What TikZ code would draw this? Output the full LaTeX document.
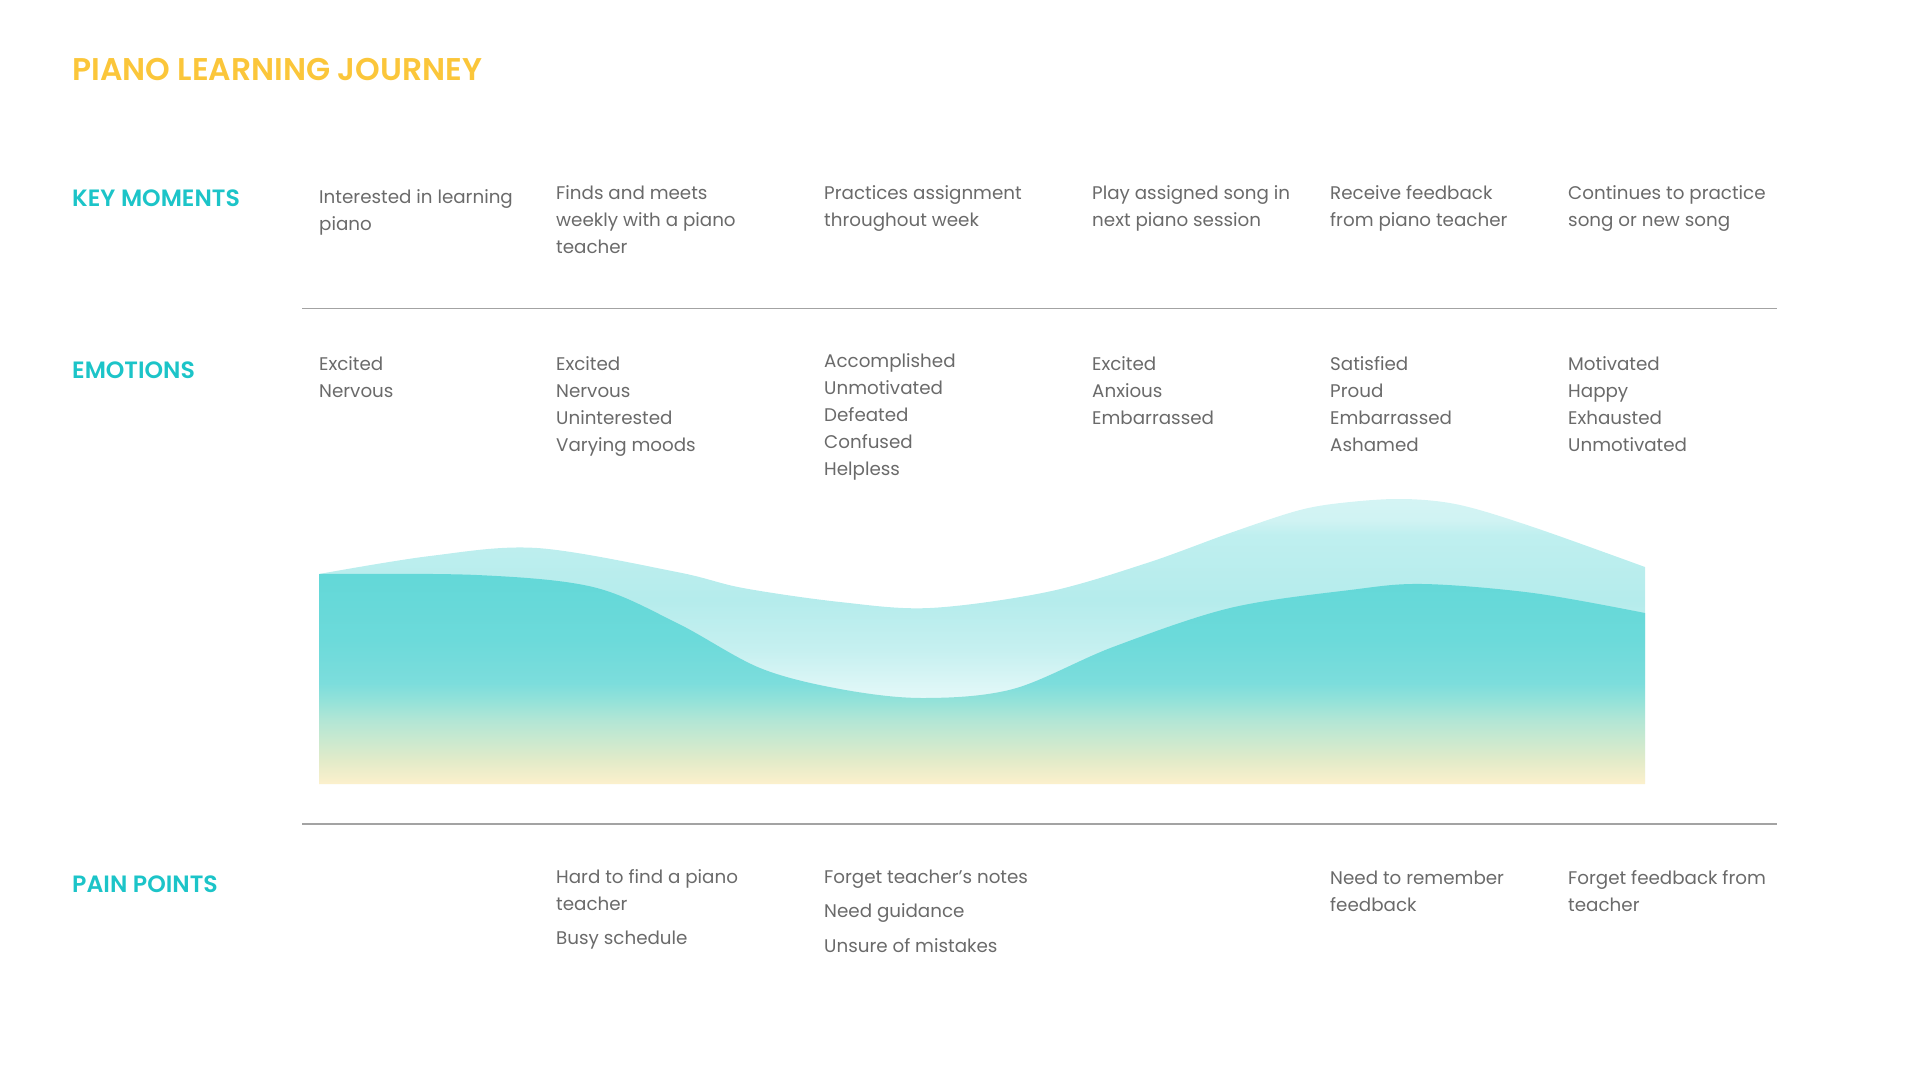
\documentclass[tikz,border=0pt]{standalone}
\usepackage{fontspec}
\setmainfont{Poppins}
\newfontfamily\headfont{Poppins SemiBold}
\usetikzlibrary{calc}

\definecolor{titlecol}{HTML}{FBC63A}
\definecolor{headcol}{HTML}{1CC4C8}
\definecolor{txt}{HTML}{6A6A6A}
\definecolor{rule}{HTML}{A3A3A3}

% colours of the two wave bands
\definecolor{dA}{HTML}{FCF0CC}
\definecolor{dB}{HTML}{E2EBC9}
\definecolor{dC}{HTML}{CAE9CF}
\definecolor{dD}{HTML}{B2E6D5}
\definecolor{dE}{HTML}{93E2D9}
\definecolor{dF}{HTML}{7CDDDC}
\definecolor{dG}{HTML}{6CDADA}
\definecolor{dH}{HTML}{63D8D8}
\definecolor{lA}{HTML}{F0FBFB}
\definecolor{lB}{HTML}{E8F9F9}
\definecolor{lC}{HTML}{DFF7F7}
\definecolor{lD}{HTML}{C6F0F0}
\definecolor{lE}{HTML}{B5ECEC}
\definecolor{lF}{HTML}{BFEFEF}
\definecolor{lG}{HTML}{D0F3F3}
\definecolor{lH}{HTML}{D4F4F4}

\pgfdeclareverticalshading{darkwave}{100bp}{color(0bp)=(dA); color(25bp)=(dA);
  color(29.2bp)=(dB); color(32.7bp)=(dC); color(36.2bp)=(dD); color(39.7bp)=(dE);
  color(42.7bp)=(dF); color(50.3bp)=(dG); color(61.7bp)=(dH); color(100bp)=(dH)}
\pgfdeclareverticalshading{lightwave}{100bp}{color(0bp)=(lA); color(25bp)=(lA);
  color(38bp)=(lB); color(41.5bp)=(lC); color(48.5bp)=(lD); color(57.3bp)=(lE);
  color(68.7bp)=(lF); color(71.3bp)=(lG); color(75bp)=(lH); color(100bp)=(lH)}

\begin{document}
\begin{tikzpicture}[x=1pt, y=-1pt,
  titletext/.style={anchor=base west, inner sep=0, text=titlecol,
    font=\headfont\fontsize{31.4}{38}\selectfont},
  rowhead/.style={anchor=base west, inner sep=0, text=headcol,
    font=\headfont\fontsize{23.6}{28}\selectfont},
  % multi-line cells are placed by the baseline of their last line
  cell/.style={anchor=base west, inner sep=0, align=left, text=txt,
    font=\fontsize{18.3}{27}\selectfont},
  divider/.style={draw=rule, line width=1.2pt}]

\useasboundingbox (0,0) rectangle (1920,1080);

% title and row headings
\node[titletext] (title) at (72,80) {PIANO LEARNING JOURNEY};
\node[rowhead] (hkey) at (72,206) {KEY MOMENTS};
\node[rowhead] (hemo) at (72,378) {EMOTIONS};
\node[rowhead] (hpain) at (72,892) {PAIN POINTS};

% key moments
\node[cell] (k1) at (319,230) {Interested in learning\\piano};
\node[cell] (k2) at (556,253) {Finds and meets\\weekly with a piano\\teacher};
\node[cell] (k3) at (824,226) {Practices assignment\\throughout week};
\node[cell] (k4) at (1092,226) {Play assigned song in\\next piano session};
\node[cell] (k5) at (1330,226) {Receive feedback\\from piano teacher};
\node[cell] (k6) at (1568,226) {Continues to practice\\song or new song};

% dividers
\coordinate (r1a) at (302,308.5);
\coordinate (r1b) at (1777,308.5);
\coordinate (r2a) at (302,824);
\coordinate (r2b) at (1777,824);
\draw[divider] (r1a) -- (r1b);
\draw[divider] (r2a) -- (r2b);

% emotions
\node[cell] (e1) at (319,397.5) {Excited\\Nervous};
\node[cell] (e2) at (556,451.5) {Excited\\Nervous\\Uninterested\\Varying moods};
\node[cell] (e3) at (824,475) {Accomplished\\Unmotivated\\Defeated\\Confused\\Helpless};
\node[cell] (e4) at (1092,424.5) {Excited\\Anxious\\Embarrassed};
\node[cell] (e5) at (1330,451.5) {Satisfied\\Proud\\Embarrassed\\Ashamed};
\node[cell] (e6) at (1568,451.5) {Motivated\\Happy\\Exhausted\\Unmotivated};

% emotion curve: light band behind, gradient band in front
\begin{scope}
  \clip (319,784) -- plot[smooth, tension=0.55] coordinates {(319,574) (430,556) (537,548)
    (677,572) (743,588) (840,602) (930,608) (1047,592) (1147,563) (1230,533) (1300,510)
    (1350,502) (1405,499) (1460,505) (1533,527) (1645,567)} -- (1645,784) -- cycle;
  \shade[shading=lightwave] (319,499) rectangle (1645,784);
\end{scope}
\begin{scope}
  \clip (319,784) -- plot[smooth, tension=0.55] coordinates {(319,574) (477,575) (593,587)
    (677,623) (760,668) (840,689) (922,698) (1013,689) (1113,647) (1230,608) (1350,590)
    (1423,584) (1533,593) (1645,613)} -- (1645,784) -- cycle;
  \shade[shading=darkwave] (319,499) rectangle (1645,784);
\end{scope}

% pain points
\node[cell] (p2) at (556,944.3) {Hard to find a piano\\teacher\\[7pt]Busy schedule};
\node[cell] (p3) at (824,952.8) {Forget teacher's notes\\[7.5pt]Need guidance\\[8pt]Unsure of mistakes};
\node[cell] (p5) at (1330,911.6) {Need to remember\\feedback};
\node[cell] (p6) at (1568,911.6) {Forget feedback from\\teacher};

\end{tikzpicture}
\end{document}
